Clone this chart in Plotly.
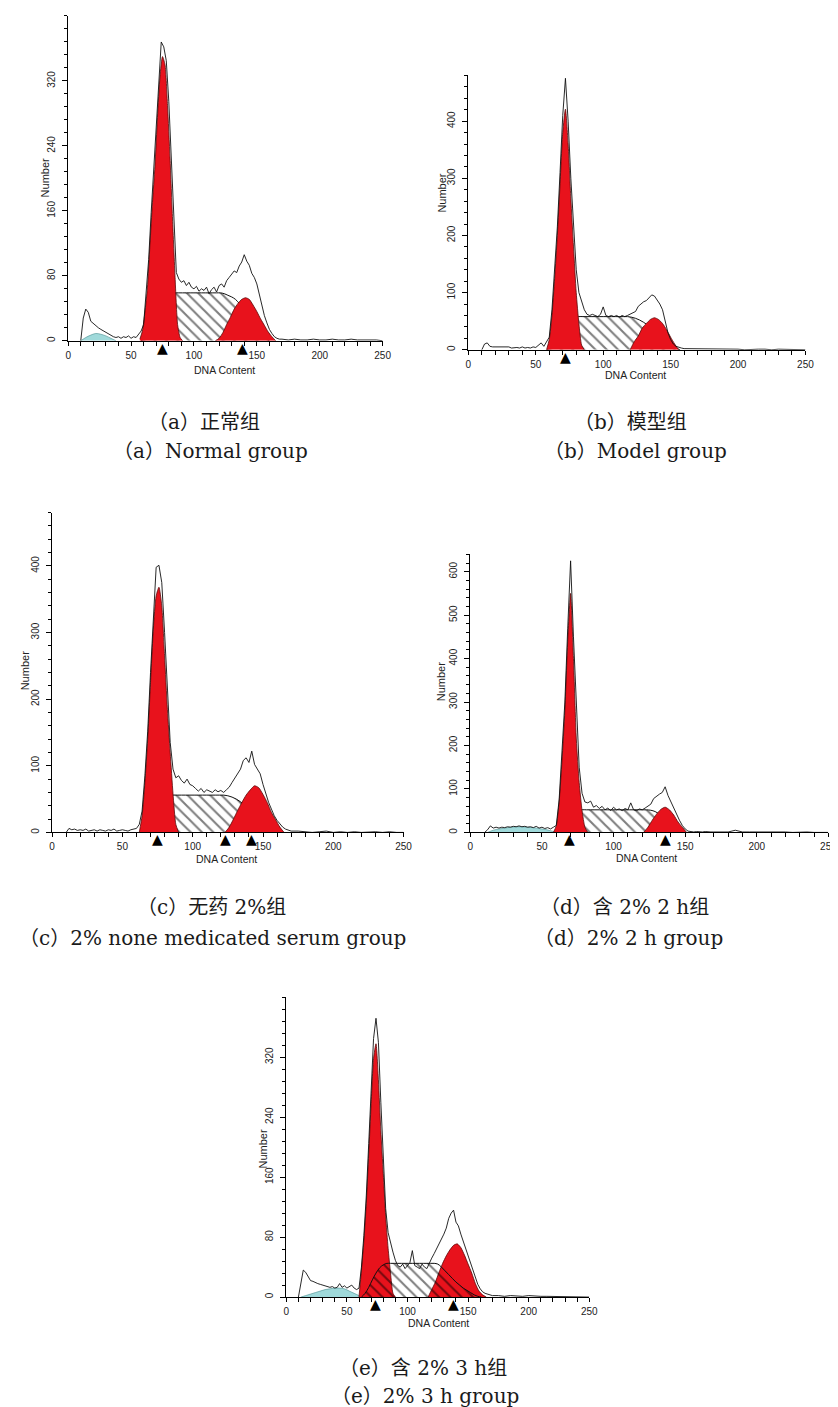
import plotly.graph_objects as go

W, H = 838, 1407

# ---------------- data ----------------
OUT_X = list(range(10, 171, 2)) + list(range(175, 251, 5))

# (a) Normal group
A_OUT = [0, 28, 39, 35, 24, 21, 18, 16, 14, 12, 10, 9, 7, 5, 4, 5, 3, 5, 4, 6, 3, 5, 4, 8, 12,
         20, 60, 100, 158, 210, 262, 320, 368, 362, 345, 295, 225, 135, 84, 76, 72, 74, 68, 72, 66,
         64, 67, 61, 64, 62, 66, 58, 63, 66, 60, 68, 70, 66, 74, 78, 82, 86, 84, 92, 97,
         106, 98, 93, 83, 78, 70, 56, 43, 31, 22, 14, 9, 5, 3, 2, 2,
         1, 2, 1, 1, 2, 1, 1, 2, 1, 1, 2, 1, 1, 1, 1, 0]
A_G1_X = list(range(57, 92, 2))
A_G1 = [2, 12, 35, 65, 118, 170, 215, 275, 325, 350, 340, 290, 225, 150, 78, 20, 4, 0]
A_G2_X = list(range(117, 166, 3))
A_G2 = [0, 3, 10, 20, 29, 39, 46, 51, 53, 51, 44, 36, 27, 19, 11, 5, 0]
A_S_X = list(range(58, 161, 3))
A_S = [0, 3, 10, 22, 34, 44, 51, 56, 58, 59, 59, 59, 59, 59, 59, 59, 59, 59, 59, 59, 59,
       59, 58, 56, 54, 51, 46, 40, 34, 28, 22, 16, 10, 4, 0]
A_AP_X = list(range(10, 39, 4))
A_AP = [0, 4, 7, 9, 8, 6, 3, 0]
A_MARK = [75, 139]

# (b) Model group
B_OUT = [0, 10, 12, 6, 5, 5, 4, 5, 4, 4, 5, 3, 4, 4, 3, 5, 3, 4, 3, 5, 4, 8, 12, 6, 14,
         22, 70, 140, 215, 310, 410, 475, 400, 300, 210, 140, 100, 85, 70, 62, 60, 62, 60, 58, 62,
         75, 60, 58, 60, 58, 60, 57, 60, 58, 60, 62, 64, 67, 76, 80, 84, 86, 92, 96, 94,
         88, 80, 70, 52, 30, 18, 10, 6, 4, 3, 2, 2, 2, 1, 1, 1,
         1, 1, 2, 1, 1, 1, 0, 1, 1, 1, 0, 1, 1, 0, 1, 0]
B_G1_X = list(range(58, 87, 2))
B_G1 = [0, 18, 60, 125, 200, 290, 380, 421, 360, 265, 180, 100, 45, 8, 0]
B_G2_X = list(range(120, 157, 3))
B_G2 = [0, 14, 24, 38, 46, 53, 56, 53, 46, 35, 22, 10, 0]
B_S_X = list(range(58, 158, 3))
B_S = [0, 3, 10, 22, 35, 45, 52, 56, 58, 58, 58, 58, 58, 58, 58, 58, 58, 58, 58, 58, 58,
       57, 55, 52, 48, 43, 37, 30, 24, 18, 12, 7, 3, 0]
B_MARK = [72]

# (c) 2% none medicated serum group
C_OUT = [0, 6, 4, 5, 3, 4, 3, 5, 2, 3, 4, 2, 4, 3, 2, 4, 3, 5, 2, 3, 4, 3, 2, 4, 5,
         6, 12, 32, 85, 152, 240, 325, 398, 401, 375, 300, 215, 135, 95, 82, 85, 78, 74, 80, 72,
         70, 66, 62, 66, 60, 64, 62, 60, 64, 61, 63, 60, 64, 68, 75, 82, 88, 95, 108, 112,
         105, 122, 102, 95, 88, 72, 58, 45, 35, 25, 18, 13, 8, 5, 3, 2,
         2, 1, 0, 1, 2, 0, 1, 0, 1, 0, 1, 1, 0, 1, 0, 0]
C_G1_X = list(range(62, 91, 2))
C_G1 = [0, 25, 75, 140, 225, 305, 355, 368, 340, 265, 185, 120, 58, 12, 0]
C_G2_X = list(range(123, 166, 3))
C_G2 = [0, 8, 20, 33, 45, 56, 64, 70, 67, 57, 45, 30, 19, 8, 0]
C_S_X = list(range(62, 165, 3))
C_S = [0, 4, 12, 24, 36, 45, 51, 54, 56, 56, 56, 56, 56, 56, 56, 56, 56, 56, 56, 56, 56,
       55, 53, 50, 46, 41, 35, 29, 23, 17, 12, 7, 4, 1, 0]
C_MARK = [75, 123.5, 142]

# (d) 2% 2 h group
D_OUT = [0, 6, 15, 10, 12, 10, 12, 11, 13, 12, 14, 13, 15, 13, 14, 12, 13, 11, 14, 10, 12, 9, 11, 8, 12,
         16, 75, 180, 300, 470, 625, 450, 290, 150, 90, 70, 68, 72, 58, 62, 55, 60, 52, 56, 50,
         58, 52, 54, 50, 55, 52, 68, 52, 50, 54, 52, 56, 60, 65, 78, 84, 88, 92, 105, 85,
         70, 56, 42, 28, 16, 8, 3, 2, 1, 2, 1, 1, 2, 1, 1, 1,
         1, 1, 5, 1, 1, 1, 2, 1, 1, 1, 0, 1, 1, 0, 0, 0]
D_G1_X = list(range(58, 83, 2))
D_G1 = [0, 15, 70, 165, 280, 440, 550, 400, 215, 115, 50, 12, 0]
D_G2_X = list(range(121, 152, 3))
D_G2 = [0, 12, 28, 42, 53, 58, 52, 40, 24, 12, 0]
D_S_X = list(range(60, 151, 3))
D_S = [0, 5, 15, 28, 40, 48, 52, 52, 52, 52, 52, 52, 52, 52, 52, 52, 52, 52, 52, 52, 52, 52,
       51, 48, 42, 35, 28, 21, 14, 7, 0]
D_AP_X = list(range(12, 61, 4))
D_AP = [0, 5, 8, 10, 12, 13, 13, 12, 11, 9, 7, 4, 0]
D_MARK = [69.5, 136]

# (e) 2% 3 h group
E_OUT = [0, 18, 36, 33, 28, 22, 21, 19, 18, 17, 16, 15, 14, 13, 14, 12, 13, 18, 13, 15, 12, 14, 16, 12, 10,
         12, 40, 82, 135, 205, 275, 345, 372, 340, 260, 195, 118, 86, 72, 60, 49, 42, 40, 44, 38,
         42, 46, 62, 42, 40, 38, 44, 40, 38, 46, 52, 58, 64, 70, 76, 84, 92, 105, 112, 116,
         100, 95, 84, 74, 66, 56, 44, 36, 26, 17, 11, 7, 5, 4, 3, 2,
         2, 1, 2, 1, 1, 2, 1, 1, 1, 1, 1, 1, 1, 1, 1, 0]
E_G1_X = list(range(60, 91, 2))
E_G1 = [0, 36, 75, 125, 191, 258, 318, 338, 290, 222, 165, 108, 65, 32, 5, 0]
E_G2_X = list(range(117, 166, 3))
E_G2 = [0, 10, 20, 33, 45, 55, 63, 69, 71, 66, 56, 44, 32, 18, 8, 3, 0]
E_S_X = list(range(62, 162, 3))
E_S = [0, 5, 13, 23, 32, 39, 43, 45, 45, 45, 45, 45, 45, 45, 45, 45, 45, 45, 45, 45, 45,
       44, 40, 35, 30, 25, 20, 16, 12, 9, 6, 3, 1, 0]
E_AP_X = list(range(12, 65, 4))
E_AP = [0, 2, 4, 6, 8, 10, 11, 12, 12, 11, 8, 5, 2, 0]
E_MARK = [73.5, 138]

# caption pieces: (text, kind) kind "c" = CJK font, "l" = Latin serif
CAPTIONS = [
    ([("（", "c"), ("a", "l"), ("）正常组", "c")],
     [("（", "c"), ("a", "l"), ("）", "c"), ("Normal group", "l")]),
    ([("（", "c"), ("b", "l"), ("）模型组", "c")],
     [("（", "c"), ("b", "l"), ("）", "c"), ("Model group", "l")]),
    ([("（", "c"), ("c", "l"), ("）无药", "c"), (" 2%", "l"), ("组", "c")],
     [("（", "c"), ("c", "l"), ("）", "c"), ("2% none medicated serum group", "l")]),
    ([("（", "c"), ("d", "l"), ("）含", "c"), (" 2% 2 h", "l"), ("组", "c")],
     [("（", "c"), ("d", "l"), ("）", "c"), ("2% 2 h group", "l")]),
    ([("（", "c"), ("e", "l"), ("）含", "c"), (" 2% 3 h", "l"), ("组", "c")],
     [("（", "c"), ("e", "l"), ("）", "c"), ("2% 3 h group", "l")]),
]

# ---------------- layout / style ----------------
RED = "#E8121C"
CYAN = "#9FD9DA"
SANS_N = "Liberation Sans Narrow, Liberation Sans, Arial"
TICKFONT = dict(family=SANS_N, size=10, color="#222")
CJK_STYLE = "font-family:'Noto Sans CJK SC';font-size:20px"
LAT_STYLE = "font-family:'DejaVu Serif';font-size:20px"


def caption_html(parts):
    out = []
    for txt, kind in parts:
        style = CJK_STYLE if kind == "c" else LAT_STYLE
        out.append(f'<span style="{style}">{txt}</span>')
    return "".join(out)


panels = [
    dict(out=A_OUT, g1=(A_G1_X, A_G1), g2=(A_G2_X, A_G2), s=(A_S_X, A_S), ap=(A_AP_X, A_AP), mark=A_MARK,
         x0=58, x1=377, yb=333, yt=8, ymax=400, ticks=[0, 80, 160, 240, 320], minor=16, hatch_top=False,
         num=(34, 170), dna=(217, 362), cap=((196, 413), (202, 442))),
    dict(out=B_OUT, g1=(B_G1_X, B_G1), g2=(B_G2_X, B_G2), s=(B_S_X, B_S), ap=None, mark=B_MARK,
         x0=464, x1=806, yb=342, yt=67.5, ymax=480, ticks=[0, 100, 200, 300, 400], minor=20, hatch_top=False,
         num=(437, 185), dna=(634, 367), cap=((628, 413), (634, 442))),
    dict(out=C_OUT, g1=(C_G1_X, C_G1), g2=(C_G2_X, C_G2), s=(C_S_X, C_S), ap=None, mark=C_MARK,
         x0=41.7, x1=398.3, yb=825, yt=505, ymax=480, ticks=[0, 100, 200, 300, 400], minor=20, hatch_top=False,
         num=(14, 663), dna=(219, 852), cap=((203, 898), (204, 929))),
    dict(out=D_OUT, g1=(D_G1_X, D_G1), g2=(D_G2_X, D_G2), s=(D_S_X, D_S), ap=(D_AP_X, D_AP), mark=D_MARK,
         x0=466, x1=829.3, yb=825, yt=546.7, ymax=640, ticks=[0, 100, 200, 300, 400, 500, 600], minor=20,
         hatch_top=False, num=(436, 674), dna=(645, 851), cap=((622, 898), (626, 929))),
    dict(out=E_OUT, g1=(E_G1_X, E_G1), g2=(E_G2_X, E_G2), s=(E_S_X, E_S), ap=(E_AP_X, E_AP), mark=E_MARK,
         x0=279.3, x1=586.7, yb=1290, yt=990, ymax=400, ticks=[0, 80, 160, 240, 320], minor=16, hatch_top=True,
         num=(256, 1142), dna=(434, 1316), cap=((418, 1359), (420, 1387))),
]

fig = go.Figure()
annotations = []
layout_axes = {}

for i, p in enumerate(panels, start=1):
    xa = "x" if i == 1 else f"x{i}"
    ya = "y" if i == 1 else f"y{i}"

    def add(tr):
        tr.update(xaxis=xa, yaxis=ya, showlegend=False, hoverinfo="skip")
        fig.add_trace(tr)

    hatch = go.Scatter(
        x=p["s"][0], y=p["s"][1], mode="lines", line=dict(color="#111", width=1, shape="spline"),
        fill="tozeroy", fillcolor="rgba(0,0,0,0)",
        fillpattern=dict(shape="\\", fgcolor="#000", bgcolor="rgba(0,0,0,0)", size=8, solidity=0.26),
    )
    if p["ap"] is not None:
        add(go.Scatter(x=p["ap"][0], y=p["ap"][1], mode="lines",
                       line=dict(color="#4a8f90", width=0.6, shape="spline"),
                       fill="tozeroy", fillcolor=CYAN))
    if not p["hatch_top"]:
        add(hatch)
    for comp in ("g1", "g2"):
        add(go.Scatter(x=p[comp][0], y=p[comp][1], mode="lines",
                       line=dict(color="#5a0a0a", width=0.8, shape="spline", smoothing=0.6),
                       fill="tozeroy", fillcolor=RED))
    if p["hatch_top"]:
        add(hatch)
    add(go.Scatter(x=OUT_X, y=p["out"], mode="lines", line=dict(color="#111", width=0.9)))

    # peak-position markers just under the x axis
    for mx in p["mark"]:
        annotations.append(dict(text="▲", x=mx, y=0, xref=xa, yref=ya, showarrow=False,
                                xanchor="center", yanchor="top", yshift=2, borderpad=0,
                                font=dict(family="DejaVu Sans", size=14, color="black")))

    xdom = [p["x0"] / W, p["x1"] / W]
    ydom = [1 - p["yb"] / H, 1 - p["yt"] / H]
    xkey = "xaxis" if i == 1 else f"xaxis{i}"
    ykey = "yaxis" if i == 1 else f"yaxis{i}"
    layout_axes[xkey] = dict(
        domain=xdom, range=[0, 250], anchor=ya, showgrid=False, zeroline=False,
        showline=True, linecolor="black", linewidth=1,
        tickmode="array", tickvals=[0, 50, 100, 150, 200, 250], ticks="outside", ticklen=4,
        tickwidth=1, tickcolor="black", tickfont=TICKFONT, ticklabelstandoff=1,
        minor=dict(dtick=10, tick0=0, ticks="outside", ticklen=4, tickwidth=1, tickcolor="black"),
    )
    layout_axes[ykey] = dict(
        domain=ydom, range=[0, p["ymax"]], anchor=xa, showgrid=False, zeroline=False,
        showline=True, linecolor="black", linewidth=1,
        tickmode="array", tickvals=p["ticks"], ticks="outside", ticklen=5, tickwidth=1,
        tickcolor="black", tickfont=TICKFONT, tickangle=-90, ticklabelstandoff=3,
        minor=dict(dtick=p["minor"], tick0=0, ticks="outside", ticklen=3, tickwidth=1, tickcolor="black"),
    )

    annotations.append(dict(text="Number", x=p["num"][0] / W, y=1 - p["num"][1] / H, xref="paper", yref="paper",
                            textangle=-90, showarrow=False, xanchor="center", yanchor="middle",
                            font=dict(family=SANS_N, size=11, color="#222")))
    annotations.append(dict(text="DNA Content", x=p["dna"][0] / W, y=1 - p["dna"][1] / H, xref="paper",
                            yref="paper", showarrow=False, xanchor="center", yanchor="middle", borderpad=0,
                            font=dict(family=SANS_N, size=10.5, color="#222")))
    (cx1, cy1), (cx2, cy2) = p["cap"]
    for (cx, cy), parts in zip(((cx1, cy1), (cx2, cy2)), CAPTIONS[i - 1]):
        annotations.append(dict(text=caption_html(parts), x=cx / W, y=1 - cy / H, xref="paper", yref="paper",
                                showarrow=False, xanchor="center", yanchor="middle", borderpad=0,
                                font=dict(family="Noto Sans CJK SC", size=20, color="#1a1a1a")))

fig.update_layout(
    width=W, height=H, margin=dict(l=0, r=0, t=0, b=0),
    paper_bgcolor="white", plot_bgcolor="white",
    annotations=annotations, **layout_axes,
)

fig.write_html("out.html")
